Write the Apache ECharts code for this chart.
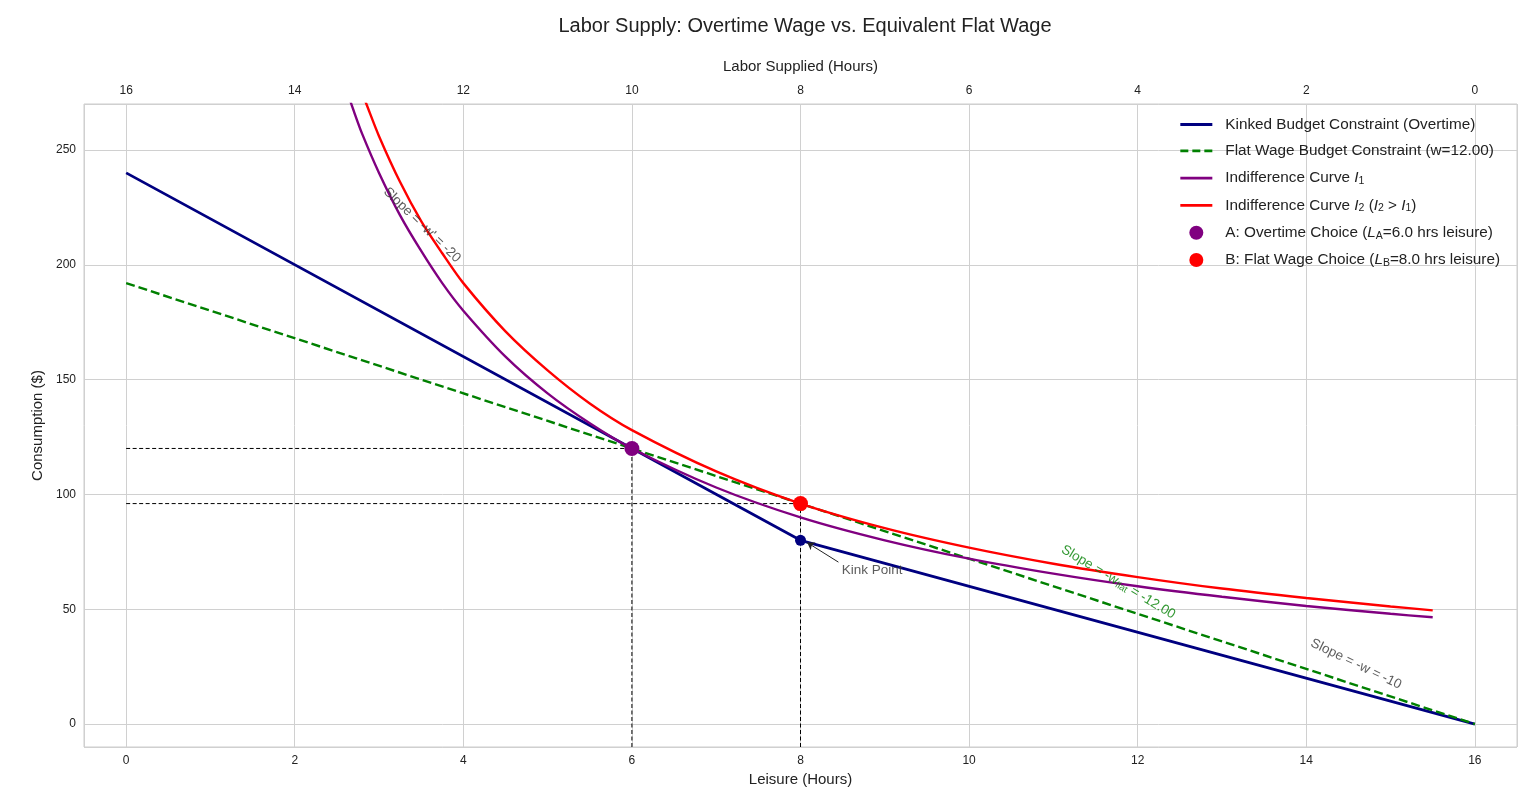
<!DOCTYPE html>
<html lang="en">
<head>
    <meta charset="UTF-8">
    <title>Labor Supply</title>
    <script src="https://cdn.jsdelivr.net/npm/echarts@6/dist/echarts.min.js"></script>
</head>
<body style="margin:0">
    <div id="main" style="width:1536px;height:802px;"></div>
    <script>
    var myChart = echarts.init(document.getElementById('main'));

    // budget constraints (leisure hours, consumption $)
    var kinkedLeisure = [0, 8, 16];
    var kinkedCons = [240, 80, 0];
    var flatLeisure = [0, 16];
    var flatCons = [192, 0];

    // indifference curves
    var i1Leisure = [2.5, 2.7, 2.8, 3, 3.25, 3.5, 3.75, 4, 4.5, 5, 5.5, 6, 7, 8, 9, 10, 11, 12, 13, 14, 15, 15.5];
    var i1Cons = [288, 267, 257, 240, 221.5, 206, 192, 180, 160, 144, 131, 120, 103, 90, 80, 72, 65.5, 60, 55.4, 51.4, 48, 46.5];
    var i2Leisure = [2.7, 2.85, 3, 3.25, 3.5, 3.75, 4, 4.5, 5, 5.5, 6, 7, 8, 9, 10, 11, 12, 13, 14, 15, 15.5];
    var i2Cons = [284, 270, 256, 236, 219, 205, 192, 171, 154, 139.6, 128, 110, 96, 85.3, 76.8, 69.8, 64, 59, 54.9, 51.2, 49.5];

    // choice points and kink
    var pointA = [6, 120];
    var pointB = [8, 96];
    var kinkPoint = [8, 80];
    var yAxisMin = -10;

    var zip = function (xs, ys) {
        var res = [];
        for (var i = 0; i < xs.length; i++) res.push([xs[i], ys[i]]);
        return res;
    };

    var font = 'Liberation Sans, Arial, sans-serif';
    var names = {
        kinked: 'Kinked Budget Constraint (Overtime)',
        flat: 'Flat Wage Budget Constraint (w=12.00)',
        i1: 'Indifference Curve I1',
        i2: 'Indifference Curve I2',
        a: 'A: Overtime Choice',
        b: 'B: Flat Wage Choice'
    };
    var legendText = {};
    legendText[names.kinked] = names.kinked;
    legendText[names.flat] = names.flat;
    legendText[names.i1] = 'Indifference Curve {it|I}{sub|1}';
    legendText[names.i2] = 'Indifference Curve {it|I}{sub|2} ({it|I}{sub|2} > {it|I}{sub|1})';
    legendText[names.a] = 'A: Overtime Choice ({it|L}{sub|A}=6.0 hrs leisure)';
    legendText[names.b] = 'B: Flat Wage Choice ({it|L}{sub|B}=8.0 hrs leisure)';

    var guide = function (p) {
        return [
            { name: 'h', type: 'line', data: [[0, p[1]], p], symbol: 'none', silent: true,
              lineStyle: { color: '#000', width: 1, type: [4, 2.5] }, z: 1 },
            { name: 'v', type: 'line', data: [[p[0], yAxisMin], p], symbol: 'none', silent: true,
              lineStyle: { color: '#000', width: 1, type: [4, 2.5] }, z: 1 }
        ];
    };
    var noSymbol = { opacity: 0 };

    var option = {
        animation: false,
        textStyle: { fontFamily: font },
        title: {
            text: 'Labor Supply: Overtime Wage vs. Equivalent Flat Wage',
            left: 800, top: 11, textAlign: 'center',
            textStyle: { fontSize: 20, fontWeight: 'normal', color: '#222', fontFamily: font }
        },
        grid: { left: 84, right: 19, top: 104, bottom: 55, show: true, borderColor: '#cccccc', borderWidth: 1 },
        legend: {
            orient: 'vertical', right: 31, top: 111,
            itemWidth: 32, itemHeight: 14, itemGap: 9.3,
            data: [
                { name: names.kinked, itemStyle: noSymbol, lineStyle: { width: 3 } },
                { name: names.flat, itemStyle: noSymbol, lineStyle: { width: 2.8, type: [8, 4] } },
                { name: names.i1, itemStyle: noSymbol, lineStyle: { width: 2.8 } },
                { name: names.i2, itemStyle: noSymbol, lineStyle: { width: 2.8 } },
                names.a, names.b
            ],
            formatter: function (n) { return legendText[n]; },
            textStyle: {
                fontSize: 15.3, color: '#222', fontFamily: font, lineHeight: 17, padding: [0, 0, 0, 8],
                rich: {
                    it: { fontStyle: 'italic', fontSize: 15.3, color: '#222', lineHeight: 17 },
                    sub: { fontSize: 10.5, color: '#222', verticalAlign: 'bottom', lineHeight: 17, padding: [7, 0, 0, 0] }
                }
            }
        },
        xAxis: [{
            type: 'value', min: -0.5, max: 16.5, splitNumber: 8, minInterval: 2, maxInterval: 2,
            name: 'Leisure (Hours)', nameLocation: 'middle', nameGap: 25,
            nameTextStyle: { fontSize: 15, color: '#222' },
            axisLine: { show: false }, axisTick: { show: false },
            axisLabel: { fontSize: 12, color: '#222', margin: 8, showMinLabel: false, showMaxLabel: false },
            splitLine: { lineStyle: { color: '#d0d0d0', width: 1 } }
        }, {
            type: 'value', position: 'top', inverse: true, min: -0.5, max: 16.5,
            splitNumber: 8, minInterval: 2, maxInterval: 2,
            name: 'Labor Supplied (Hours)', nameLocation: 'middle', nameGap: 30,
            nameTextStyle: { fontSize: 15, color: '#222' },
            axisLine: { show: false }, axisTick: { show: false },
            axisLabel: { fontSize: 12, color: '#222', margin: 7, showMinLabel: false, showMaxLabel: false },
            splitLine: { show: false }
        }],
        yAxis: {
            type: 'value', min: yAxisMin, max: 270, splitNumber: 6, minInterval: 50, maxInterval: 50,
            name: 'Consumption ($)', nameLocation: 'middle', nameGap: 33,
            nameTextStyle: { fontSize: 15, color: '#222' },
            axisLine: { show: false }, axisTick: { show: false },
            axisLabel: { fontSize: 12, color: '#222', margin: 8, showMinLabel: false, showMaxLabel: false },
            splitLine: { lineStyle: { color: '#d0d0d0', width: 1 } }
        },
        series: guide(pointA).concat(guide(pointB)).concat([{
            name: names.kinked, type: 'line', data: zip(kinkedLeisure, kinkedCons), symbol: 'none',
            lineStyle: { color: '#000080', width: 2.8 }, itemStyle: { color: '#000080' }, z: 3
        }, {
            name: names.flat, type: 'line', data: zip(flatLeisure, flatCons), symbol: 'none',
            lineStyle: { color: '#008000', width: 2.4, type: [9, 4] }, itemStyle: { color: '#008000' }, z: 3
        }, {
            name: names.i1, type: 'line', data: zip(i1Leisure, i1Cons), symbol: 'none', smooth: 0.3,
            clip: true, lineStyle: { color: '#800080', width: 2.4 }, itemStyle: { color: '#800080' }, z: 3
        }, {
            name: names.i2, type: 'line', data: zip(i2Leisure, i2Cons), symbol: 'none', smooth: 0.3,
            clip: true, lineStyle: { color: '#ff0000', width: 2.4 }, itemStyle: { color: '#ff0000' }, z: 3
        }, {
            name: names.a, type: 'scatter', data: [pointA], symbol: 'circle', symbolSize: 15,
            itemStyle: { color: '#800080', opacity: 1 }, z: 5
        }, {
            name: names.b, type: 'scatter', data: [pointB], symbol: 'circle', symbolSize: 15,
            itemStyle: { color: '#ff0000', opacity: 1 }, z: 5
        }, {
            name: 'kink', type: 'scatter', data: [kinkPoint], symbol: 'circle', symbolSize: 11,
            itemStyle: { color: '#000080', opacity: 1 }, z: 5
        }, {
            name: 'kinkArrow', type: 'lines', coordinateSystem: 'cartesian2d',
            symbol: ['none', 'arrow'], symbolSize: 7,
            lineStyle: { color: '#222', width: 1, opacity: 1 },
            data: [{ coords: [[8.45, 70.5], [8.08, 79]] }], z: 4
        }, {
            name: 'notes', type: 'scatter', symbolSize: 0, silent: true, z: 6,
            label: { show: true, position: 'inside', fontSize: 13.5, color: '#333', fontFamily: font },
            data: [
                { value: [8.49, 67], label: { position: 'right', distance: 0, formatter: 'Kink Point' } },
                { value: [3.51, 217.3], label: { rotate: -44, formatter: "Slope = -w' = -20" } },
                { value: [14.59, 26.1], label: { rotate: -26, formatter: 'Slope = -w = -10' } },
                { value: [11.77, 61.8], label: {
                    rotate: -31, color: '#008000', formatter: 'Slope = -w{s|flat} = -12.00',
                    rich: { s: { fontSize: 9.5, color: '#008000', verticalAlign: 'bottom', padding: [6, 0, 0, 0] } }
                } }
            ]
        }])
    };
    myChart.setOption(option);
    </script>
</body>
</html>
